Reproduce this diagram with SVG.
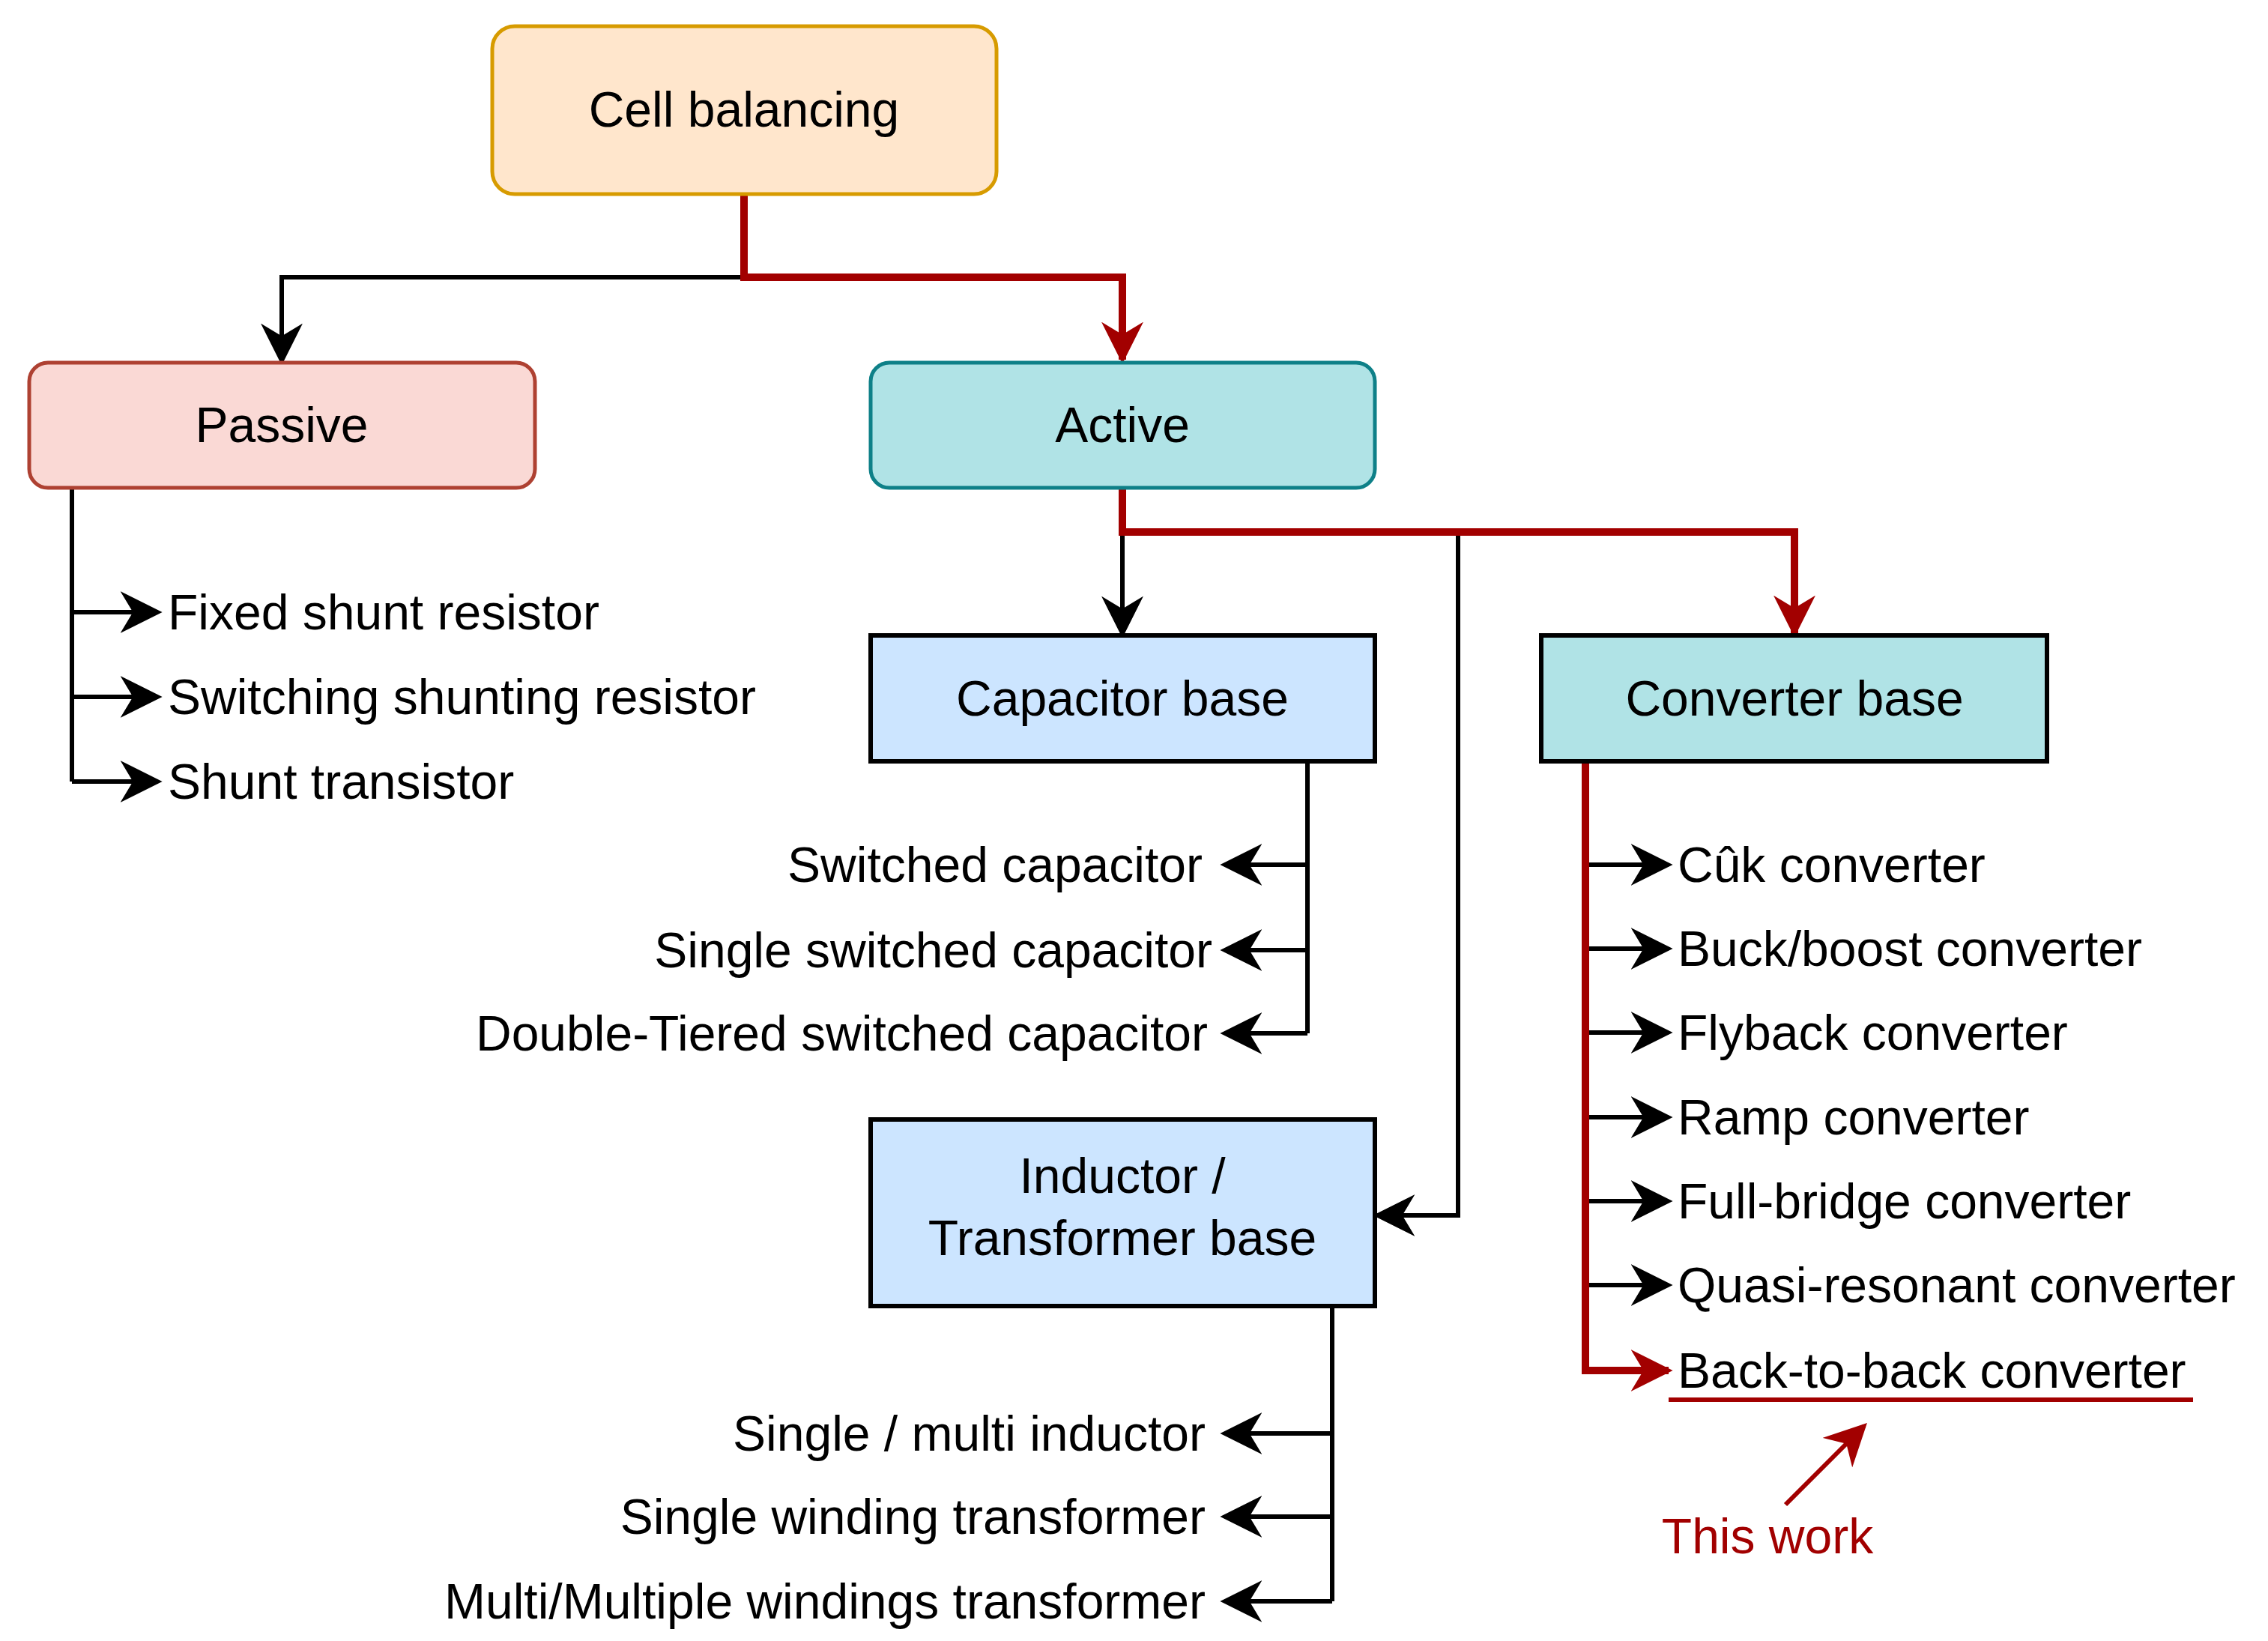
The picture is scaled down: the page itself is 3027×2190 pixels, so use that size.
<svg xmlns="http://www.w3.org/2000/svg" width="3027" height="2190" viewBox="0 0 3027 2190">
<style>
text{font-family:"Liberation Sans",Arial,sans-serif;font-size:66px;fill:#000}
.c{text-anchor:middle}.r{text-anchor:end}
.k{fill:none;stroke:#000;stroke-width:6}
.red{fill:none;stroke:#a20000;stroke-width:10}
</style>
<defs>
<marker id="ab" viewBox="0 0 10 10" refX="9" refY="5" markerWidth="56" markerHeight="56" markerUnits="userSpaceOnUse" orient="auto"><path d="M0,0 L10,5 L0,10 L3,5 Z" fill="#000"/></marker>
<marker id="ar" viewBox="0 0 10 10" refX="9" refY="5" markerWidth="56" markerHeight="56" markerUnits="userSpaceOnUse" orient="auto"><path d="M0,0 L10,5 L0,10 L3,5 Z" fill="#a20000"/></marker>
</defs>
<g id="connectors">
<path class="k" d="M993,370 H376 V482" marker-end="url(#ab)"/>
<path class="red" d="M993,259 V370 H1498 V480" marker-end="url(#ar)"/>
<path class="k" d="M1498,710 V846" marker-end="url(#ab)"/>
<path class="k" d="M1946,710 V1622 H1838" marker-end="url(#ab)"/>
<path class="red" d="M1498,651 V710 H2395 V845" marker-end="url(#ar)"/>
<path class="k" d="M96,651 V1043"/>
<path class="k" d="M96,817 H211" marker-end="url(#ab)"/>
<path class="k" d="M96,930 H211" marker-end="url(#ab)"/>
<path class="k" d="M96,1043 H211" marker-end="url(#ab)"/>
<path class="k" d="M1745,1016 V1379"/>
<path class="k" d="M1745,1154 H1634" marker-end="url(#ab)"/>
<path class="k" d="M1745,1268 H1634" marker-end="url(#ab)"/>
<path class="k" d="M1745,1379 H1634" marker-end="url(#ab)"/>
<path class="k" d="M1778,1743 V2137"/>
<path class="k" d="M1778,1913 H1634" marker-end="url(#ab)"/>
<path class="k" d="M1778,2024 H1634" marker-end="url(#ab)"/>
<path class="k" d="M1778,2137 H1634" marker-end="url(#ab)"/>
<path class="k" d="M2116,1154 H2227" marker-end="url(#ab)"/>
<path class="k" d="M2116,1266 H2227" marker-end="url(#ab)"/>
<path class="k" d="M2116,1378 H2227" marker-end="url(#ab)"/>
<path class="k" d="M2116,1491 H2227" marker-end="url(#ab)"/>
<path class="k" d="M2116,1603 H2227" marker-end="url(#ab)"/>
<path class="k" d="M2116,1715 H2227" marker-end="url(#ab)"/>
<path class="red" d="M2116,1016 V1829 H2227" marker-end="url(#ar)"/>
<path d="M2227,1868 H2927" fill="none" stroke="#a20000" stroke-width="6"/>
<path d="M2383,2008 L2488,1903" fill="none" stroke="#a20000" stroke-width="6" marker-end="url(#ar)"/>
</g>
<g id="cell"><rect x="657" y="35" width="673" height="224" rx="30" fill="#ffe6cc" stroke="#d79b00" stroke-width="5"/><text class="c" x="993" y="169">Cell balancing</text></g>
<g id="passive"><rect x="39" y="484" width="675" height="167" rx="25" fill="#fad9d5" stroke="#ae4132" stroke-width="5"/><text class="c" x="376" y="590">Passive</text></g>
<g id="active"><rect x="1162" y="484" width="673" height="167" rx="25" fill="#b0e3e6" stroke="#0e8088" stroke-width="5"/><text class="c" x="1498" y="590">Active</text></g>
<g id="capacitor"><rect x="1162" y="848" width="673" height="168" fill="#cce5ff" stroke="#000" stroke-width="6"/><text class="c" x="1498" y="955">Capacitor base</text></g>
<g id="converter"><rect x="2057" y="848" width="675" height="168" fill="#b0e3e6" stroke="#000" stroke-width="6"/><text class="c" x="2395" y="955">Converter base</text></g>
<g id="inductor"><rect x="1162" y="1494" width="673" height="249" fill="#cce5ff" stroke="#000" stroke-width="6"/><text class="c" x="1498" y="1592">Inductor /</text><text class="c" x="1498" y="1675">Transformer base</text></g>
<g id="passive-items">
<text x="224" y="840">Fixed shunt resistor</text>
<text x="224" y="953">Switching shunting resistor</text>
<text x="224" y="1066">Shunt transistor</text>
</g>
<g id="capacitor-items">
<text class="r" x="1605" y="1177">Switched capacitor</text>
<text class="r" x="1618" y="1291">Single switched capacitor</text>
<text class="r" x="1612" y="1402">Double-Tiered switched capacitor</text>
</g>
<g id="inductor-items">
<text class="r" x="1609" y="1936">Single / multi inductor</text>
<text class="r" x="1609" y="2047">Single winding transformer</text>
<text class="r" x="1609" y="2160">Multi/Multiple windings transformer</text>
</g>
<g id="converter-items">
<text x="2239" y="1177">Cûk converter</text>
<text x="2239" y="1289">Buck/boost converter</text>
<text x="2239" y="1401">Flyback converter</text>
<text x="2239" y="1514">Ramp converter</text>
<text x="2239" y="1626">Full-bridge converter</text>
<text x="2239" y="1738">Quasi-resonant converter</text>
<text x="2239" y="1852">Back-to-back converter</text>
</g>
<g id="thiswork"><text class="c" x="2359" y="2073" style="fill:#a20000">This work</text></g>
</svg>
